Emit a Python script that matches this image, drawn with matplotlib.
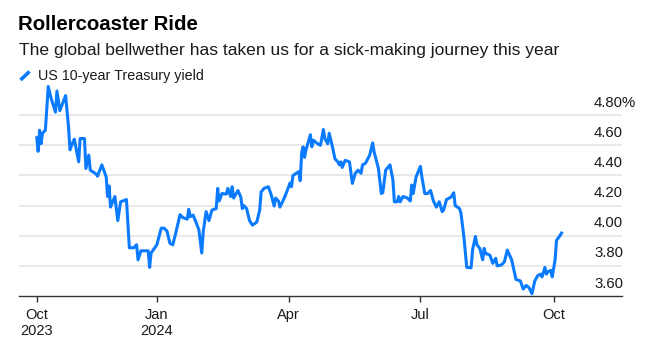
import matplotlib
matplotlib.use("Agg")
import matplotlib.pyplot as plt
import matplotlib.transforms as mtransforms
from matplotlib.lines import Line2D
import pandas as pd

# ---------------- data ----------------
dates = [
    "2023-10-10", "2023-10-11", "2023-10-12", "2023-10-13", "2023-10-14", "2023-10-16",
    "2023-10-18", "2023-10-20", "2023-10-23", "2023-10-24", "2023-10-26", "2023-10-27",
    "2023-10-30", "2023-11-01", "2023-11-02", "2023-11-04", "2023-11-05", "2023-11-08",
    "2023-11-09", "2023-11-12", "2023-11-13", "2023-11-15", "2023-11-16", "2023-11-20",
    "2023-11-21", "2023-11-24", "2023-11-27", "2023-11-28", "2023-11-29", "2023-11-30",
    "2023-12-03", "2023-12-05", "2023-12-07", "2023-12-11", "2023-12-13", "2023-12-16",
    "2023-12-18", "2023-12-19", "2023-12-21", "2023-12-26", "2023-12-27", "2023-12-28",
    "2024-01-01", "2024-01-04", "2024-01-06", "2024-01-08", "2024-01-10", "2024-01-12",
    "2024-01-14", "2024-01-17", "2024-01-19", "2024-01-22", "2024-01-23", "2024-01-24",
    "2024-01-26", "2024-01-28", "2024-01-30", "2024-02-01", "2024-02-02", "2024-02-04",
    "2024-02-06", "2024-02-08", "2024-02-11", "2024-02-12", "2024-02-13", "2024-02-15",
    "2024-02-18", "2024-02-19", "2024-02-21", "2024-02-22", "2024-02-23", "2024-02-26",
    "2024-02-28", "2024-02-29", "2024-03-01", "2024-03-03", "2024-03-05", "2024-03-07",
    "2024-03-10", "2024-03-12", "2024-03-13", "2024-03-15", "2024-03-18", "2024-03-20",
    "2024-03-22", "2024-03-23", "2024-03-25", "2024-03-26", "2024-03-29", "2024-04-02",
    "2024-04-03", "2024-04-04", "2024-04-08", "2024-04-09", "2024-04-10", "2024-04-11",
    "2024-04-12", "2024-04-13", "2024-04-16", "2024-04-17", "2024-04-18", "2024-04-21",
    "2024-04-23", "2024-04-25", "2024-04-26", "2024-04-28", "2024-04-29", "2024-05-01",
    "2024-05-03", "2024-05-05", "2024-05-06", "2024-05-07", "2024-05-08", "2024-05-10",
    "2024-05-13", "2024-05-15", "2024-05-17", "2024-05-19", "2024-05-21", "2024-05-22",
    "2024-05-24", "2024-05-27", "2024-05-29", "2024-05-30", "2024-06-02", "2024-06-04",
    "2024-06-05", "2024-06-07", "2024-06-10", "2024-06-12", "2024-06-13", "2024-06-15",
    "2024-06-16", "2024-06-17", "2024-06-19", "2024-06-22", "2024-06-24", "2024-06-25",
    "2024-06-26", "2024-06-28", "2024-07-01", "2024-07-02", "2024-07-04", "2024-07-06",
    "2024-07-08", "2024-07-10", "2024-07-12", "2024-07-14", "2024-07-16", "2024-07-17",
    "2024-07-19", "2024-07-22", "2024-07-24", "2024-07-25", "2024-07-28", "2024-07-29",
    "2024-07-31", "2024-08-02", "2024-08-05", "2024-08-06", "2024-08-08", "2024-08-09",
    "2024-08-11", "2024-08-13", "2024-08-14", "2024-08-15", "2024-08-16", "2024-08-18",
    "2024-08-20", "2024-08-22", "2024-08-23", "2024-08-26", "2024-08-28", "2024-08-30",
    "2024-09-02", "2024-09-04", "2024-09-05", "2024-09-08", "2024-09-10", "2024-09-12",
    "2024-09-14", "2024-09-16", "2024-09-18", "2024-09-20", "2024-09-22", "2024-09-23",
    "2024-09-25", "2024-09-26", "2024-09-27", "2024-09-29", "2024-09-30", "2024-10-02",
    "2024-10-03", "2024-10-05", "2024-10-07",
]
yields = [
    4.66, 4.56, 4.70, 4.61, 4.68, 4.70,
    4.99, 4.91, 4.82, 4.96, 4.83, 4.855,
    4.93, 4.72, 4.57, 4.62, 4.64, 4.49,
    4.645, 4.645, 4.446, 4.535, 4.435, 4.41,
    4.395, 4.47, 4.39, 4.26, 4.33, 4.19,
    4.26, 4.10, 4.225, 4.24, 3.92, 3.92,
    3.94, 3.84, 3.90, 3.90, 3.79, 3.885,
    3.94, 4.05, 4.05, 4.03, 3.95, 3.94,
    4.016, 4.14, 4.12, 4.11, 4.175, 4.126,
    4.137, 4.09, 4.04, 3.885, 4.026, 4.16,
    4.10, 4.17, 4.18, 4.314, 4.23, 4.28,
    4.276, 4.314, 4.26, 4.325, 4.25, 4.30,
    4.255, 4.18, 4.20, 4.18, 4.10, 4.07,
    4.09, 4.17, 4.29, 4.314, 4.325, 4.27,
    4.197, 4.25, 4.23, 4.19, 4.25, 4.35,
    4.325, 4.40, 4.425, 4.365, 4.55, 4.59,
    4.52, 4.57, 4.67, 4.59, 4.634, 4.61,
    4.60, 4.705, 4.645, 4.61, 4.68, 4.60,
    4.51, 4.49, 4.47, 4.49, 4.453, 4.50,
    4.49, 4.347, 4.414, 4.435, 4.414, 4.47,
    4.48, 4.535, 4.616, 4.557, 4.446, 4.28,
    4.285, 4.435, 4.47, 4.37, 4.225, 4.225,
    4.26, 4.225, 4.26, 4.25, 4.23, 4.336,
    4.28, 4.39, 4.46, 4.39, 4.28, 4.28,
    4.30, 4.23, 4.19, 4.225, 4.16, 4.17,
    4.24, 4.255, 4.285, 4.20, 4.18, 4.15,
    3.995, 3.79, 3.787, 3.905, 3.995, 3.94,
    3.916, 3.84, 3.916, 3.88, 3.88, 3.87,
    3.817, 3.85, 3.80, 3.806, 3.827, 3.905,
    3.84, 3.755, 3.71, 3.70, 3.646, 3.67,
    3.655, 3.615, 3.70, 3.735, 3.745, 3.727,
    3.79, 3.745, 3.76, 3.77, 3.727, 3.84,
    3.97, 3.995, 4.026,
]

y_ticks = [3.60, 3.80, 4.00, 4.20, 4.40, 4.60, 4.80]
y_labels = ["3.60", "3.80", "4.00", "4.20", "4.40", "4.60", "4.80%"]
x_ticks = ["2023-10-10", "2024-01-01", "2024-04-01", "2024-07-01", "2024-10-01"]
x_labels = ["Oct\n2023", "Jan\n2024", "Apr", "Jul", "Oct"]
x_range = ["2023-09-28", "2024-11-17"]
y_range = [3.60, 5.00]

title = "Rollercoaster Ride"
subtitle = "The global bellwether has taken us for a sick-making journey this year"
series_name = "US 10-year Treasury yield"

# ---------------- style ----------------
BLUE = "#0a7bff"
TEXT = "#1a1a1a"
GRID = "#e9e9e9"
AXIS = "#333333"

plt.rcParams["font.family"] = ["Liberation Sans", "DejaVu Sans"]

W, H = 645, 351
fig = plt.figure(figsize=(W / 100, H / 100), dpi=100)
fig.patch.set_facecolor("white")

ax_left, ax_right, ax_bottom, ax_top = 19.3, 621.7, 296.0, 85.0
ax = fig.add_axes([ax_left / W, 1 - ax_bottom / H,
                   (ax_right - ax_left) / W, (ax_bottom - ax_top) / H])
ax.set_facecolor("white")

x = pd.to_datetime(dates)
ax.plot(x, yields, color=BLUE, lw=2.2, solid_joinstyle="round",
        solid_capstyle="butt", clip_on=False, zorder=3)

ax.set_xlim(pd.to_datetime(x_range[0]), pd.to_datetime(x_range[1]))
ax.set_ylim(*y_range)

# gridlines
for v in y_ticks[1:]:
    ax.axhline(v, color=GRID, lw=1.4, zorder=1)

for s in ["top", "left", "right"]:
    ax.spines[s].set_visible(False)
ax.spines["bottom"].set_color(AXIS)
ax.spines["bottom"].set_linewidth(1.0)

ax.set_yticks([])
ax.set_xticks(pd.to_datetime(x_ticks))
ax.set_xticklabels(x_labels, fontsize=10.5, color=TEXT, linespacing=1.12)
ax.tick_params(axis="x", length=4.3, width=1.0, color=AXIS, pad=4.5)

# right-hand value labels, left-aligned, sitting above their gridlines
trans = mtransforms.blended_transform_factory(ax.transAxes, ax.transData)
trans = mtransforms.offset_copy(trans, fig=fig, x=594 - ax_right, y=8.4, units="dots")
for v, lab in zip(y_ticks, y_labels):
    ax.text(1.0, v, lab, transform=trans, ha="left", va="baseline",
            fontsize=10.7, color=TEXT, clip_on=False)

# titles
fig.text(18.5 / W, 1 - 29.5 / H, title, fontsize=14.7, fontweight="bold",
         color="#000000", ha="left", va="baseline")
fig.text(19 / W, 1 - 55 / H, subtitle, fontsize=12.6, color=TEXT,
         ha="left", va="baseline")

# legend
fig.add_artist(Line2D([20.5 / W, 29.5 / W], [1 - 80 / H, 1 - 71.5 / H],
                      color=BLUE, lw=2.6, solid_capstyle="butt"))
fig.text(38 / W, 1 - 80 / H, series_name, fontsize=10.3, color=TEXT,
         ha="left", va="baseline")

fig.savefig("out.png", dpi=100, facecolor="white")
